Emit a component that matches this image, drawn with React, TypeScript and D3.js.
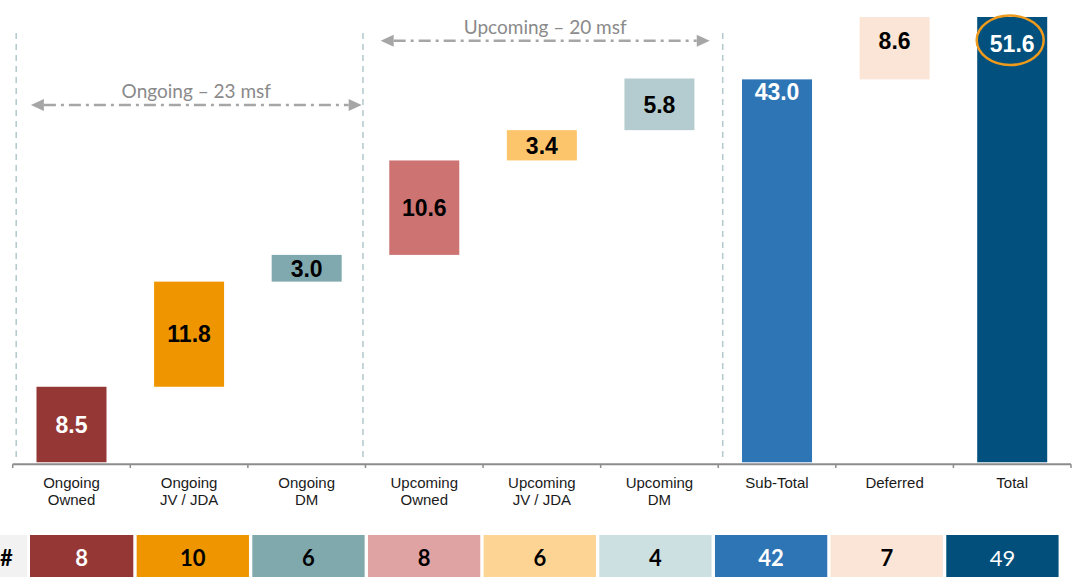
import React from "react";
import * as d3 from "d3";

// ---- data ----
const categories = [
  "Ongoing Owned",
  "Ongoing JV / JDA",
  "Ongoing DM",
  "Upcoming Owned",
  "Upcoming JV / JDA",
  "Upcoming DM",
  "Sub-Total",
  "Deferred",
  "Total",
];
const categoryLines = [
  ["Ongoing", "Owned"],
  ["Ongoing", "JV / JDA"],
  ["Ongoing", "DM"],
  ["Upcoming", "Owned"],
  ["Upcoming", "JV / JDA"],
  ["Upcoming", "DM"],
  ["Sub-Total"],
  ["Deferred"],
  ["Total"],
];
const values = [8.5, 11.8, 3.0, 10.6, 3.4, 5.8, 43.0, 8.6, 51.6];
const kinds = ["step", "step", "step", "step", "step", "step", "total", "step", "total"];
const counts = [8, 10, 6, 8, 6, 4, 42, 7, 49];
const groupNotes = [
  { text: "Ongoing – 23 msf", from: 0, to: 3 },
  { text: "Upcoming – 20 msf", from: 3, to: 6 },
];
const yMax = 50;

// ---- styles ----
const barColors = ["#953735", "#EF9500", "#7FA9AE", "#CD7472", "#FCC56C", "#B4CCCF", "#2E75B6", "#FBE5D6", "#02507D"];
const barLabelColors = ["#fff", "#000", "#000", "#000", "#000", "#000", "#fff", "#000", "#fff"];
const totalLabelBaselineDy = [0, 0, 0, 0, 0, 0, 21, 0, 35];
const cellColors = ["#953735", "#EE9500", "#80A9AD", "#E0A3A3", "#FDD494", "#CCDFE1", "#2E75B6", "#FBE5D6", "#024F7C"];
const cellTextColors = ["#fff", "#000", "#000", "#000", "#000", "#000", "#fff", "#000", "#fff"];
const cellTextWeights = [700, 700, 700, 700, 700, 700, 700, 700, 400];

const W = 1076;
const H = 577;

export default function App() {
  const x = d3.scaleBand<string>().domain(categories).range([12.7, 1071]).paddingInner(0).paddingOuter(0);
  const y = d3.scaleLinear().domain([0, yMax]).range([462.5, 17]);
  const barW = 70;
  const axisY = 464.3;

  // waterfall computation
  let cum = 0;
  const bars = values.map((v, i) => {
    let base: number, top: number;
    if (kinds[i] === "total") {
      base = 0;
      top = v;
      cum = v;
    } else {
      base = cum;
      top = cum + v;
      cum = top;
    }
    return { cat: categories[i], v, base, top, i };
  });

  const boundary = (i: number) => (x(categories[Math.min(i, categories.length - 1)]) as number) + (i >= categories.length ? x.bandwidth() : 0);
  const dashOffsets = [3.5, -2.5, 4.5];
  const dashXs = [0, 3, 6].map((b, k) => boundary(b) + dashOffsets[k]);

  // table scale
  const tx = d3.scaleLinear().domain([0, 9]).range([21, 21 + 115.66 * 9]);
  const cellW = 112.3;
  const tableTop = 535;

  const arrowYs = [105, 40.7];
  const arrowInsets: [number, number][] = [
    [14.7, 1.3],
    [17.7, 13],
  ];

  return (
    <svg width={W} height={H} style={{ position: "absolute", left: 0, top: 0, background: "#fff" }}>
      <defs>
        <clipPath id="plot">
          <rect x={0} y={y(yMax)} width={W} height={y(0) - y(yMax)} />
        </clipPath>
      </defs>

      {/* dashed separators */}
      {dashXs.map((dx, k) => (
        <line key={k} x1={dx} x2={dx} y1={33} y2={462} stroke="#B2C9CD" strokeWidth={1.5} strokeDasharray="6,5" />
      ))}

      {/* group arrows */}
      {groupNotes.map((g, k) => {
        const x1 = dashXs[g.from / 3] + arrowInsets[k][0];
        const x2 = dashXs[g.to / 3] - arrowInsets[k][1];
        const ay = arrowYs[k];
        const ah = 13;
        const hw = 6;
        return (
          <g key={k}>
            <line x1={x1 + ah} x2={x2 - ah} y1={ay} y2={ay} stroke="#A6A6A6" strokeWidth={2.6} strokeDasharray="12,5,3,5" />
            <polygon points={`${x1},${ay} ${x1 + ah},${ay - hw} ${x1 + ah},${ay + hw}`} fill="#A6A6A6" />
            <polygon points={`${x2},${ay} ${x2 - ah},${ay - hw} ${x2 - ah},${ay + hw}`} fill="#A6A6A6" />
            <text
              x={(x1 + x2) / 2}
              y={ay - 7}
              textAnchor="middle"
              fontFamily="Lato, 'Open Sans', sans-serif"
              fontSize={19}
              fill="#8A8A8A"
            >
              {g.text}
            </text>
          </g>
        );
      })}

      {/* bars */}
      <g clipPath="url(#plot)">
        {bars.map((b) => {
          const cx = (x(b.cat) as number) + x.bandwidth() / 2;
          return (
            <rect
              key={b.cat}
              x={cx - barW / 2}
              y={y(b.top)}
              width={barW}
              height={y(b.base) - y(b.top)}
              fill={barColors[b.i]}
            />
          );
        })}
      </g>

      {/* bar labels */}
      {bars.map((b) => {
        const cx = (x(b.cat) as number) + x.bandwidth() / 2;
        let ly: number;
        if (kinds[b.i] === "total") {
          ly = Math.max(y(b.top), y(yMax)) + totalLabelBaselineDy[b.i];
        } else {
          ly = y((b.base + b.top) / 2) + 8.3;
        }
        return (
          <text
            key={b.cat}
            x={cx}
            y={ly}
            textAnchor="middle"
            fontFamily="'Liberation Sans', Arial, sans-serif"
            fontWeight={700}
            fontSize={23}
            fill={barLabelColors[b.i]}
          >
            {b.v.toFixed(1)}
          </text>
        );
      })}

      {/* highlight ellipse on total */}
      <ellipse
        cx={(x("Total") as number) + x.bandwidth() / 2 - 2}
        cy={40.3}
        rx={33.5}
        ry={24.7}
        fill="none"
        stroke="#EE9A1D"
        strokeWidth={2.5}
      />

      {/* x axis */}
      <line x1={x.range()[0]} x2={x.range()[1]} y1={axisY} y2={axisY} stroke="#8C8C8C" strokeWidth={2} />
      {d3.range(categories.length + 1).map((i) => (
        <line key={i} x1={boundary(i)} x2={boundary(i)} y1={axisY} y2={axisY + 3.7} stroke="#8C8C8C" strokeWidth={1.5} />
      ))}
      {categoryLines.map((lines, i) => {
        const cx = (x(categories[i]) as number) + x.bandwidth() / 2;
        return (
          <text
            key={i}
            x={cx}
            textAnchor="middle"
            fontFamily="'Liberation Sans', Arial, sans-serif"
            fontSize={15}
            fill="#1a1a1a"
          >
            {lines.map((l, k) => (
              <tspan key={k} x={cx} y={488.3 + k * 16.7}>
                {l}
              </tspan>
            ))}
          </text>
        );
      })}

      {/* count table */}
      <rect x={0} y={tableTop} width={27.3} height={H - tableTop} fill="#F2F2F2" />
      <text x={6.5} y={565.7} textAnchor="middle" fontFamily="Lato, 'Open Sans', sans-serif" fontWeight={700} fontSize={22} fill="#000">
        #
      </text>
      {counts.map((c, i) => {
        const left = Math.max(tx(i), 30);
        const right = tx(i) + cellW;
        return (
          <g key={i}>
            <rect x={left} y={tableTop} width={right - left} height={H - tableTop} fill={cellColors[i]} />
            <text
              x={(left + right) / 2}
              y={565.7}
              textAnchor="middle"
              fontFamily="Lato, 'Open Sans', sans-serif"
              fontWeight={cellTextWeights[i]}
              fontSize={22}
              fill={cellTextColors[i]}
            >
              {c}
            </text>
          </g>
        );
      })}
    </svg>
  );
}
